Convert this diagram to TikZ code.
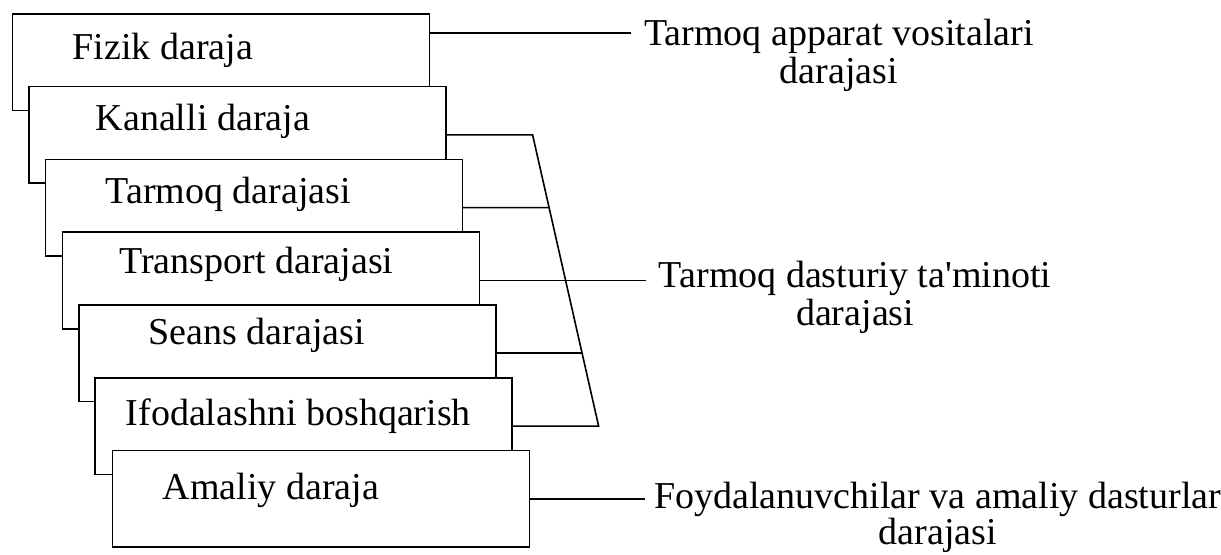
\documentclass[tikz,border=0pt]{standalone}
\usepackage{fontspec}
\setmainfont{Liberation Serif}[Ligatures=TeXOff]
\usetikzlibrary{calc}

\tikzset{
  layer/.style={draw, fill=white, anchor=north west, inner sep=0pt,
    minimum width=208.5pt, minimum height=48.25pt},
  layername/.style={anchor=base west, inner sep=0pt,
    font=\fontsize{19}{19}\selectfont},
  group/.style={anchor=base west, align=center, inner sep=0pt,
    font=\fontsize{19}{19}\selectfont}
}

\begin{document}
\begin{tikzpicture}[x=0.5pt, y=-0.5pt, line width=0.8pt]
\useasboundingbox (0,0) rectangle (1221,554);
% draws layers, back to front
\node[layer] (fizik) at (11.7,13) {};
\node[layername] (fizik-t) at ($(fizik.north west)+(60.3,46)$) {Fizik daraja};
\node[layer] (kanalli) at (28,85.8) {};
\node[layername] (kanalli-t) at ($(kanalli.north west)+(67,45)$) {Kanalli daraja};
\node[layer] (tarmoq) at (44.5,158.6) {};
\node[layername] (tarmoq-t) at ($(tarmoq.north west)+(60.5,45)$) {Tarmoq darajasi};
\node[layer] (transport) at (61.5,231.4) {};
\node[layername] (transport-t) at ($(transport.north west)+(57,42)$) {Transport darajasi};
\node[layer] (seans) at (78,304.2) {};
\node[layername] (seans-t) at ($(seans.north west)+(70,40)$) {Seans darajasi};
\node[layer] (ifoda) at (94,377) {};
\node[layername] (ifoda-t) at ($(ifoda.north west)+(31,48)$) {Ifodalashni boshqarish};
\node[layer] (amaliy) at (111.5,449.8) {};
\node[layername] (amaliy-t) at ($(amaliy.north west)+(50.5,50)$) {Amaliy daraja};
% ends of connectors
\coordinate (hw-end) at ($(fizik.north east)+(201,20)$);
\coordinate (btop) at ($(kanalli.east)+(86,0)$);
\coordinate (bbot) at ($(ifoda.east)+(86,0)$);
\coordinate (sw-end) at ($(transport.east)+(166,0)$);
\coordinate (app-end) at ($(amaliy.east)+(115,0)$);
% labels groups (base is the last line)
\node[group] (hw) at ($(hw-end)+(12,50)$) {Tarmoq apparat vositalari\\darajasi};
\node[group] (sw) at ($(sw-end)+(12,45.5)$) {Tarmoq dasturiy ta'minoti\\darajasi};
\node[group] (app) at ($(app-end)+(8.5,46)$) {Foydalanuvchilar va amaliy dasturlar\\[-1pt]darajasi};
% draws connectors
\draw ($(fizik.north east)+(0,20)$) -- (hw-end);
\draw (kanalli.east) -- (btop) -- (bbot) -- (ifoda.east);
\draw (tarmoq.east) -- ($(btop)!0.25!(bbot)$);
\draw (transport.east) -- (sw-end);
\draw (seans.east) -- ($(btop)!0.75!(bbot)$);
\draw (amaliy.east) -- (app-end);
\end{tikzpicture}
\end{document}
